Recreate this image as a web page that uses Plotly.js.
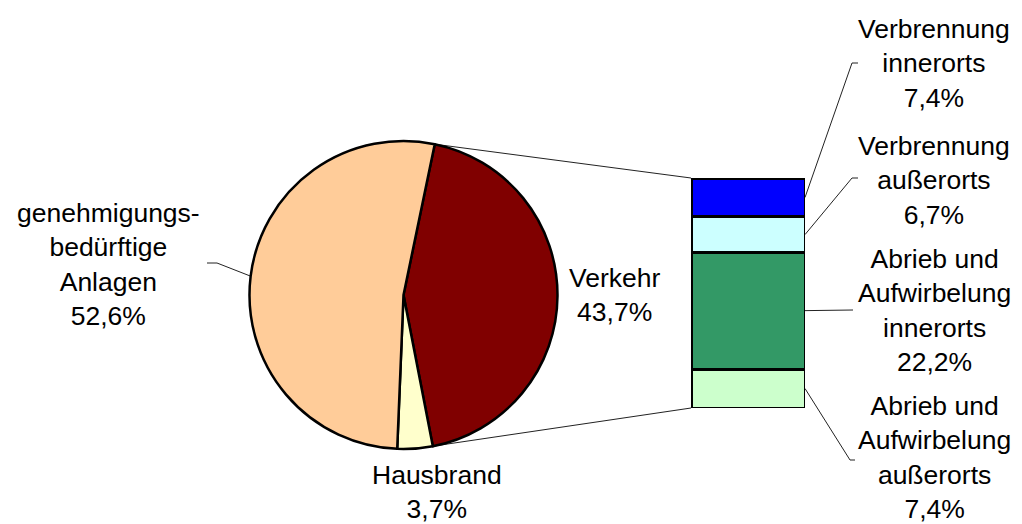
<!DOCTYPE html>
<html><head><meta charset="utf-8">
<script src="https://cdn.plot.ly/plotly-3.0.1.min.js"></script>
<style>html,body{margin:0;padding:0;background:#fff}</style>
</head><body><div id="chart" style="width:1022px;height:524px"></div>
<script>
// ---- data ----
const pieLabels = ['Verkehr', 'Hausbrand', 'genehmigungs-<br>bedürftige<br>Anlagen'];
const pieValues = [43.7, 3.7, 52.6];
const pieColors = ['#800000', '#FFFFCC', '#FFCC99'];

const barLabels = ['Abrieb und<br>Aufwirbelung<br>außerorts', 'Abrieb und<br>Aufwirbelung<br>innerorts', 'Verbrennung<br>außerorts', 'Verbrennung<br>innerorts'];
const barValues = [7.4, 22.2, 6.7, 7.4];
const barColors = ['#CCFFCC', '#339966', '#CCFFFF', '#0000FF'];

// ---- layout geometry (pixels) ----
const W = 1022, H = 524;
const pie = {cx: 403.5, cy: 295, r: 154, rotation: 11.7};
const bar = {x0: 691, x1: 805, top: 178, bottom: 408};
const pieLabelPos = [[615, 295], [437, 492], [108, 264]];
const barLabelPos = [[934, 457], [934, 310], [934, 180], [934, 64]];
const barElbow = [[850, 460, 855], [853, 310, 853], [852, 178, 858], [852, 63, 858]];
const pieElbow = [null, null, [217, 263, 207]];

const px = x => x / W;
const py = y => 1 - y / H;
const fmt = v => v.toFixed(1).replace('.', ',') + '%';
const font = {family: 'Liberation Sans, Arial, sans-serif', size: 26.5, color: '#000'};

const pieTotal = pieValues.reduce((a, b) => a + b, 0);
const barTotal = barValues.reduce((a, b) => a + b, 0);

const traces = [
  {
    type: 'pie', labels: pieLabels, values: pieValues, sort: false,
    direction: 'clockwise', rotation: pie.rotation,
    marker: {colors: pieColors, line: {color: '#000', width: 2.5}},
    textinfo: 'none', hoverinfo: 'none',
    domain: {x: [px(pie.cx - pie.r), px(pie.cx + pie.r)], y: [py(pie.cy + pie.r), py(pie.cy - pie.r)]}
  }
];
barValues.forEach((v, i) => {
  traces.push({
    type: 'bar', x: [0], y: [v], width: [1], name: barLabels[i],
    marker: {color: barColors[i], line: {color: '#000', width: 3}},
    cliponaxis: false,
    hoverinfo: 'none', xaxis: 'x', yaxis: 'y'
  });
});

const annotations = [];
const shapes = [];
const ln = (x0, y0, x1, y1) => shapes.push({type: 'line', xref: 'paper', yref: 'paper', layer: 'below',
  x0: px(x0), y0: py(y0), x1: px(x1), y1: py(y1), line: {color: '#222', width: 1}});

// pie labels & leaders
let ang = pie.rotation;
pieValues.forEach((v, i) => {
  annotations.push({xref: 'paper', yref: 'paper', x: px(pieLabelPos[i][0]), y: py(pieLabelPos[i][1]),
    xanchor: 'center', yanchor: 'middle', showarrow: false, font: font,
    text: pieLabels[i] + '<br>' + fmt(v)});
  const span = v / pieTotal * 360;
  if (pieElbow[i]) {
    const mid = (ang + span / 2) * Math.PI / 180;
    const ex = pie.cx + pie.r * Math.sin(mid), ey = pie.cy - pie.r * Math.cos(mid);
    ln(ex, ey, pieElbow[i][0], pieElbow[i][1]);
    ln(pieElbow[i][0], pieElbow[i][1], pieElbow[i][2], pieElbow[i][1]);
  }
  ang += span;
});

// connector lines pie -> bar (first slice boundaries)
const a0 = pie.rotation * Math.PI / 180;
const a1 = (pie.rotation + pieValues[0] / pieTotal * 360) * Math.PI / 180;
ln(pie.cx + pie.r * Math.sin(a0), pie.cy - pie.r * Math.cos(a0), bar.x0, bar.top);
ln(pie.cx + pie.r * Math.sin(a1), pie.cy - pie.r * Math.cos(a1), bar.x0, bar.bottom);

// bar labels & leaders
let cum = 0;
barValues.forEach((v, i) => {
  annotations.push({xref: 'paper', yref: 'paper', x: px(barLabelPos[i][0]), y: py(barLabelPos[i][1]),
    xanchor: 'center', yanchor: 'middle', showarrow: false, font: font,
    text: barLabels[i] + '<br>' + fmt(v)});
  const midFrac = (cum + v / 2) / barTotal;
  const sy = bar.bottom - midFrac * (bar.bottom - bar.top);
  ln(bar.x1, sy, barElbow[i][0], barElbow[i][1]);
  ln(barElbow[i][0], barElbow[i][1], barElbow[i][2], barElbow[i][1]);
  cum += v;
});

const hidden = {showgrid: false, zeroline: false, showticklabels: false, showline: false, ticks: '', fixedrange: true};
const layout = {
  width: W, height: H, margin: {l: 0, r: 0, t: 0, b: 0},
  paper_bgcolor: '#fff', plot_bgcolor: 'rgba(0,0,0,0)', showlegend: false,
  barmode: 'stack',
  xaxis: Object.assign({domain: [px(bar.x0), px(bar.x1)], range: [-0.5, 0.5]}, hidden),
  yaxis: Object.assign({domain: [py(bar.bottom), py(bar.top)], range: [0, barTotal]}, hidden),
  annotations: annotations, shapes: shapes
};
Plotly.newPlot('chart', traces, layout, {displayModeBar: false, staticPlot: true});
</script></body></html>
